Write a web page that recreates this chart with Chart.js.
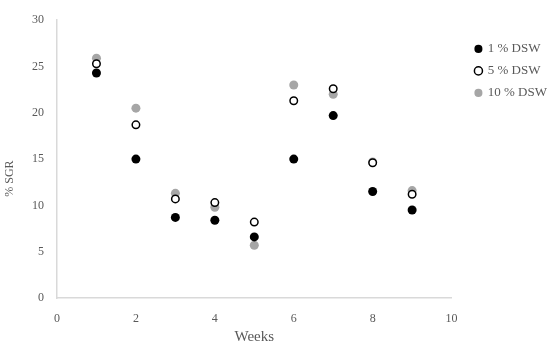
<!DOCTYPE html>
<html lang="en">
<head>
<meta charset="UTF-8">
<title>% SGR by week</title>
<script src="https://cdn.jsdelivr.net/npm/chart.js"></script>
<style>
  body { margin: 0; padding: 0; background: #fff; }
  #wrap { width: 550px; height: 347px; position: relative; }
</style>
</head>
<body>
<div id="wrap"><canvas id="sgrChart"></canvas></div>
<script>
// data
const weeks = [1, 2, 3, 4, 5, 6, 7, 8, 9];
const dsw1 = [24.3, 15.0, 8.7, 8.4, 6.6, 15.0, 19.7, 11.5, 9.5];
const dsw5 = [25.3, 18.7, 10.7, 10.3, 8.2, 21.3, 22.6, 14.6, 11.2];
const dsw10 = [25.9, 20.5, 11.3, 9.8, 5.7, 23.0, 22.0, 14.7, 11.6];
const seriesNames = ['1 % DSW', '5 % DSW', '10 % DSW'];
const xTicks = [0, 2, 4, 6, 8, 10];
const yTicks = [0, 5, 10, 15, 20, 25, 30];

const toPoints = vals => weeks.map((w, i) => ({ x: w, y: vals[i] }));

const axisGrey = '#d9d9d9';
const textGrey = '#595959';
const serif = "'Liberation Serif', 'DejaVu Serif', serif";

// nudge the legend a bit to the right of the plot, like the original
const legendShift = {
  id: 'legendShift',
  afterLayout(chart) {
    chart.legend.left += 15;
    chart.legend.right += 15;
  }
};

const ctx = document.getElementById('sgrChart').getContext('2d');
const sgrChart = new Chart(ctx, {
  type: 'scatter',
  data: {
    datasets: [{
      label: seriesNames[0],
      data: toPoints(dsw1),
      backgroundColor: '#000000',
      borderColor: '#000000',
      borderWidth: 0,
      pointRadius: 4.5
    }, {
      label: seriesNames[1],
      data: toPoints(dsw5),
      backgroundColor: '#ffffff',
      borderColor: '#000000',
      borderWidth: 1.5,
      pointRadius: 3.75
    }, {
      label: seriesNames[2],
      data: toPoints(dsw10),
      backgroundColor: '#a6a6a6',
      borderColor: '#a6a6a6',
      borderWidth: 0,
      pointRadius: 4.5
    }]
  },
  options: {
    responsive: true,
    maintainAspectRatio: false,
    animation: false,
    layout: { padding: { top: 9, left: 0, right: 8, bottom: 0 } },
    plugins: {
      tooltip: { enabled: false },
      legend: {
        position: 'right',
        align: 'start',
        title: { display: true, text: '', padding: { top: 5, bottom: 5 }, font: { size: 12 } },
        labels: {
          usePointStyle: true,
          pointStyle: 'circle',
          boxWidth: 5.7,
          boxHeight: 5.7,
          padding: 9,
          color: textGrey,
          font: { family: serif, size: 13 }
        }
      }
    },
    scales: {
      x: {
        type: 'linear',
        min: 0,
        max: 10,
        afterBuildTicks: s => { s.ticks = xTicks.map(v => ({ value: v })); },
        afterFit: s => { s.height = 49; },
        grid: { display: false, drawTicks: false },
        border: { display: true, color: axisGrey, width: 1.5 },
        ticks: { color: textGrey, padding: 14, font: { family: serif, size: 12 } },
        title: { display: true, text: 'Weeks', color: textGrey, padding: { top: 0, bottom: 1 }, font: { family: serif, size: 15 } }
      },
      y: {
        min: 0,
        max: 30,
        afterBuildTicks: s => { s.ticks = yTicks.map(v => ({ value: v })); },
        afterFit: s => { s.width = 57; },
        grid: { display: false, drawTicks: false },
        border: { display: true, color: axisGrey, width: 1.5 },
        ticks: { color: textGrey, padding: 13, font: { family: serif, size: 12 } },
        title: {
          display: true,
          // trailing spaces push the visible words a little below the middle
          text: '% SGR             ',
          color: textGrey,
          padding: { top: 3, bottom: 0 },
          font: { family: serif, size: 12 }
        }
      }
    }
  },
  plugins: [legendShift]
});
</script>
</body>
</html>
